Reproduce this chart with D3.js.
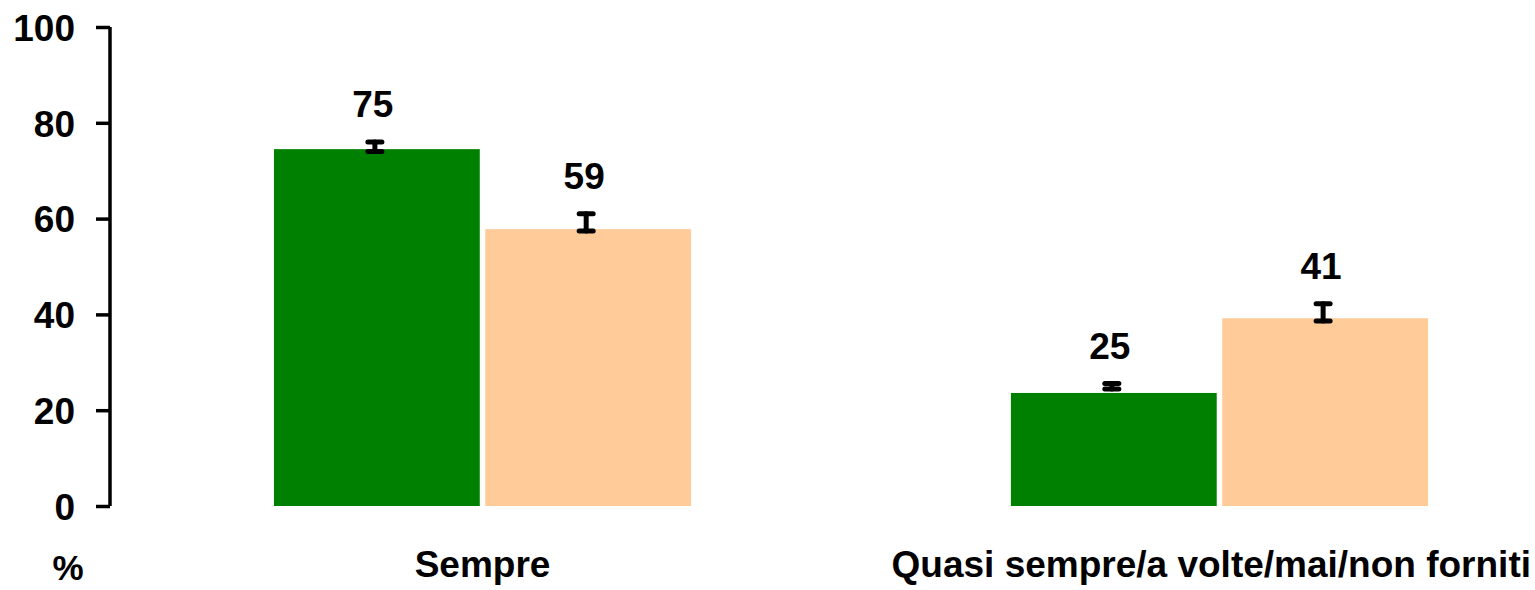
<!DOCTYPE html>
<html>
<head>
<meta charset="utf-8">
<script src="https://cdn.jsdelivr.net/npm/d3@7"></script>
<style>
  body { margin: 0; background: #fff; }
  svg { display: block; font-family: "Liberation Sans", Arial, sans-serif; font-weight: bold; }
</style>
</head>
<body>
<script>
// categories and series
var categories = ["Sempre", "Quasi sempre/a volte/mai/non forniti"];
var series = ["s1", "s2"];
var colors = ["#008000", "#FFCC99"];

// bar heights
var barValues = [[74.5, 57.8], [23.6, 39.2]];
// error bar centres and half widths
var errCenter = [[75.0, 59.2], [25.0, 40.4]];
var errHalf = [[1.0, 1.8], [0.6, 1.8]];
// value labels
var valueLabels = [["75", "59"], ["25", "41"]];

var yTicks = [0, 20, 40, 60, 80, 100];

var width = 1535, height = 590;

var svg = d3.select("body").append("svg")
  .attr("width", width)
  .attr("height", height);

// scales
var yScale = d3.scaleLinear().domain([0, 100]).range([506, 27]);

var x0 = d3.scaleBand()
  .domain(categories)
  .range([110, 1592])
  .paddingInner(0.434)
  .paddingOuter(0.2225);

var x1 = d3.scaleBand()
  .domain(series)
  .range([0, x0.bandwidth()])
  .paddingInner(0.026);

// bars
var groups = svg.append("g").selectAll("g")
  .data(categories)
  .enter()
  .append("g")
  .attr("transform", function(d) { return "translate(" + x0(d) + ",0)"; });

groups.selectAll("rect")
  .data(function(d, i) { return series.map(function(s, j) { return {s: s, j: j, i: i}; }); })
  .enter()
  .append("rect")
  .attr("x", d => x1(d.s))
  .attr("width", x1.bandwidth())
  .attr("y", d => yScale(barValues[d.i][d.j]))
  .attr("height", d => yScale(0) - yScale(barValues[d.i][d.j]))
  .attr("fill", d => colors[d.j]);

// error bars
var errs = groups.selectAll("g.err")
  .data(function(d, i) { return series.map(function(s, j) { return {s: s, j: j, i: i}; }); })
  .enter()
  .append("g")
  .attr("class", "err")
  .attr("stroke", "#000")
  .attr("stroke-width", 5)
  .attr("stroke-linecap", "round");

errs.each(function(d) {
  var g = d3.select(this);
  var cx = x1(d.s) + x1.bandwidth() / 2 - 2;
  var top = yScale(errCenter[d.i][d.j] + errHalf[d.i][d.j]);
  var bot = yScale(errCenter[d.i][d.j] - errHalf[d.i][d.j]);
  g.append("line").attr("x1", cx).attr("x2", cx).attr("y1", top).attr("y2", bot);
  g.append("line").attr("x1", cx - 7).attr("x2", cx + 7).attr("y1", top).attr("y2", top);
  g.append("line").attr("x1", cx - 7).attr("x2", cx + 7).attr("y1", bot).attr("y2", bot);
});

// value labels
groups.selectAll("text.val")
  .data(function(d, i) { return series.map(function(s, j) { return {s: s, j: j, i: i}; }); })
  .enter()
  .append("text")
  .attr("class", "val")
  .attr("x", d => x1(d.s) + x1.bandwidth() / 2 - 4)
  .attr("y", d => yScale(errCenter[d.i][d.j] + errHalf[d.i][d.j]) - 24.5)
  .attr("text-anchor", "middle")
  .style("font-size", "37px")
  .text(d => valueLabels[d.i][d.j]);

// y axis
var yAxis = d3.axisLeft(yScale)
  .tickValues(yTicks)
  .tickSize(14)
  .tickPadding(21)
  .tickFormat(d3.format("d"));

var ay = svg.append("g")
  .attr("transform", "translate(110,0)")
  .call(yAxis);
ay.select(".domain").attr("stroke-width", 3.5).attr("d", "M0," + yScale(100) + "V" + yScale(0));
ay.selectAll(".tick line").attr("stroke-width", 3.5);
ay.selectAll(".tick text")
  .style("font-size", "37px")
  .style("font-family", "'Liberation Sans', Arial, sans-serif")
  .style("font-weight", "bold")
  .attr("dy", "0.36em");

// category labels
svg.append("g").selectAll("text")
  .data(categories)
  .enter()
  .append("text")
  .attr("y", 577)
  .attr("text-anchor", "middle")
  .style("font-size", "37px")
  .text(d => d)
  .attr("x", function(d) {
    var c = x0(d) + x0.bandwidth() / 2;
    var w = this.getComputedTextLength();
    return Math.min(c, width - 4 - w / 2);
  });

// unit label
svg.append("text")
  .attr("x", 68)
  .attr("y", 580)
  .attr("text-anchor", "middle")
  .style("font-size", "35px")
  .text("%");
</script>
</body>
</html>
